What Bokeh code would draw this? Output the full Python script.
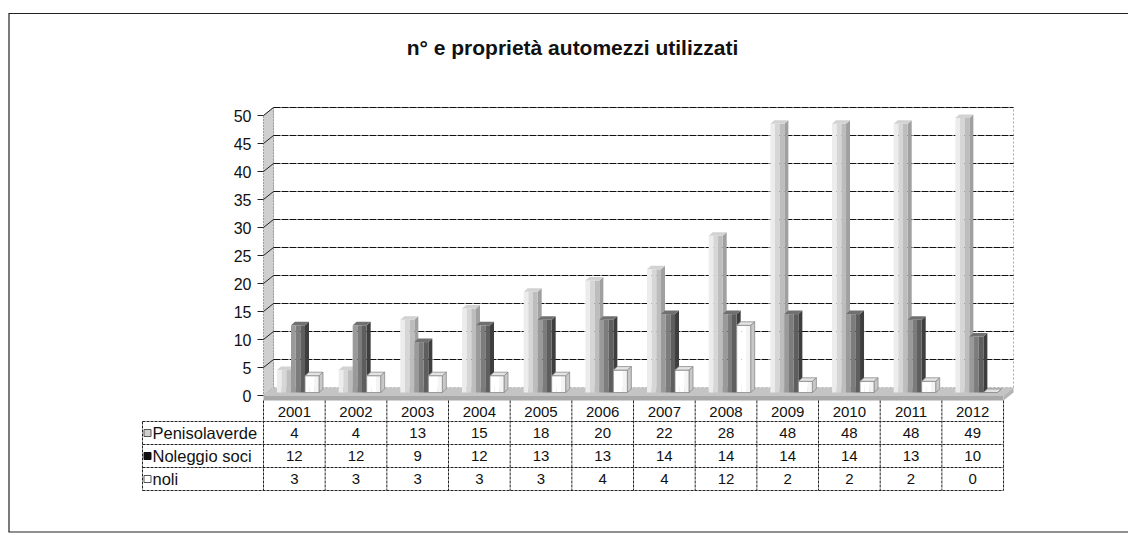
from bokeh.plotting import figure
from bokeh.models import Range1d
from bokeh.embed import file_html
from bokeh.resources import INLINE
from bokeh.core.properties import value

# ---------------- data ----------------
years = ["2001", "2002", "2003", "2004", "2005", "2006",
         "2007", "2008", "2009", "2010", "2011", "2012"]
penisolaverde = [4, 4, 13, 15, 18, 20, 22, 28, 48, 48, 48, 49]
noleggio_soci = [12, 12, 9, 12, 13, 13, 14, 14, 14, 14, 13, 10]
noli = [3, 3, 3, 3, 3, 4, 4, 12, 2, 2, 2, 0]
series_names = ["Penisolaverde", "Noleggio soci", "noli"]
y_ticks = [0, 5, 10, 15, 20, 25, 30, 35, 40, 45, 50]
title_text = "n° e proprietà automezzi utilizzati"

# ---------------- layout calibration (page pixels -> data units) ----------------
W, H = 1128, 533
ORG = 0.0                   # page position of the canvas origin
PX0, CW = 263.0, 61.67      # page x of first column, column width in px
PY0, SY = 395.0, 5.6        # page y of value 0, px per unit


def ux(px):
    return (px - PX0) / CW


def uy(py):
    return (PY0 - py) / SY


def dx(px):
    return px / CW


def dy(px):
    return px / SY


FONT = "Liberation Sans"
n = len(years)
YMAX = y_ticks[-1]

p = figure(width=W, height=H, x_range=Range1d(ux(ORG), ux(ORG + W)),
           y_range=Range1d(uy(ORG + H), uy(ORG)),
           output_backend="svg", toolbar_location=None, tools="",
           x_axis_location=None, y_axis_location=None, min_border=0,
           outline_line_color=None, background_fill_color="white",
           border_fill_color="white")
p.xgrid.visible = False
p.ygrid.visible = False

# ---------------- outer frame ----------------
p.segment(x0=[ux(8), ux(8.5), ux(8)], y0=[uy(13), uy(13), uy(531.5)],
          x1=[ux(ORG + W + 5), ux(8.5), ux(ORG + W + 5)], y1=[uy(13), uy(531.5), uy(531.5)],
          line_color="#222222", line_width=1.2)

# ---------------- title ----------------
p.text(x=[ux(572)], y=[uy(47)], text=[title_text], text_font=value(FONT),
       text_font_style="bold", text_font_size="21px", text_align="center",
       text_baseline="middle", text_color="#111111")

# ---------------- 3D walls ----------------
DXW, DYW = dx(10), dy(8)
# back wall
p.patch(x=[DXW, n + DXW, n + DXW, DXW], y=[DYW, DYW, YMAX + DYW, YMAX + DYW],
        fill_color="white", line_color="#aaaaaa", line_dash="2 2", line_width=1)
# side wall
p.patch(x=[0, DXW, DXW, 0], y=[0, DYW, YMAX + DYW, YMAX],
        fill_color="#cfcfcf", line_color="#999999", line_dash="2 1", line_width=1)
# gridlines on back wall, diagonals on side wall, ticks
gv = [v for v in y_ticks if v > 0]
p.segment(x0=[DXW] * len(gv), y0=[v + DYW for v in gv],
          x1=[n + DXW] * len(gv), y1=[v + DYW for v in gv],
          line_color="#111111", line_width=1.2, line_dash="7 1")
p.segment(x0=[0] * len(gv), y0=gv, x1=[DXW] * len(gv), y1=[v + DYW for v in gv],
          line_color="#222222", line_width=1)
p.segment(x0=[ux(257)] * len(y_ticks), y0=y_ticks, x1=[0] * len(y_ticks), y1=y_ticks,
          line_color="#222222", line_width=1)
p.text(x=[ux(251)] * len(y_ticks), y=y_ticks, text=[str(v) for v in y_ticks],
       text_font=value(FONT), text_font_size="16px", text_align="right",
       text_baseline="middle", text_color="#111111")

# floor
FT = dy(5)
p.patch(x=[0, n, n + DXW, DXW], y=[0, 0, DYW, DYW], fill_color="#c4c4c4",
        line_color=None)
p.patch(x=[0, n, n, 0], y=[0, 0, -FT, -FT], fill_color="#a8a8a8", line_color=None)
p.patch(x=[n, n + DXW, n + DXW, n], y=[0, DYW, DYW - FT, -FT], fill_color="#b5b5b5",
        line_color=None)

# ---------------- 3D bars ----------------
B0 = dy(3)               # bar baseline above front floor edge
BW = dx(14)              # bar front width
SX, SYD = dx(4), dy(3.5)  # bar depth
starts = [dx(13.5), dx(27.5), dx(41.5)]
series = [penisolaverde, noleggio_soci, noli]
front_cols = [["#ececec", "#d6d6d6", "#bdbdbd"],
              ["#9a9a9a", "#7c7c7c", "#5e5e5e"],
              ["#ffffff", "#ffffff", "#f4f4f4"]]
side_cols = ["#a0a0a0", "#3e3e3e", "#c8c8c8"]
top_cols = ["#d2d2d2", "#707070", "#e4e4e4"]
edge_cols = [None, None, "#8a8a8a"]

for s, vals in enumerate(series):
    lefts = [i + starts[s] for i in range(n)]
    tops = [B0 + v for v in vals]
    # side faces
    p.patches(xs=[[l + BW, l + BW + SX, l + BW + SX, l + BW] for l in lefts],
              ys=[[B0, B0 + SYD, t + SYD, t] for t in tops],
              fill_color=side_cols[s], line_color=edge_cols[s], line_width=0.8)
    # front faces in three tone strips
    for k in range(3):
        p.quad(left=[l + BW * k / 3 for l in lefts],
               right=[l + BW * (k + 1) / 3 for l in lefts],
               bottom=[B0] * n, top=tops, fill_color=front_cols[s][k],
               line_color=None)
    if edge_cols[s]:
        p.quad(left=lefts, right=[l + BW for l in lefts], bottom=[B0] * n, top=tops,
               fill_color=None, line_color=edge_cols[s], line_width=0.8)
    # top faces
    p.patches(xs=[[l, l + BW, l + BW + SX, l + SX] for l in lefts],
              ys=[[t, t, t + SYD, t + SYD] for t in tops],
              fill_color=top_cols[s], line_color=edge_cols[s], line_width=0.8)

# ---------------- data table ----------------
row_lines = [421, 444, 467, 490]
TL = ux(142)
p.segment(x0=[TL] * len(row_lines), y0=[uy(r) for r in row_lines],
          x1=[n] * len(row_lines), y1=[uy(r) for r in row_lines],
          line_color="#222222", line_width=1, line_dash="3 1")
p.segment(x0=list(range(n + 1)), y0=[uy(400)] * (n + 1),
          x1=list(range(n + 1)), y1=[uy(490)] * (n + 1),
          line_color="#222222", line_width=1, line_dash="3 1")
p.segment(x0=[TL], y0=[uy(421)], x1=[TL], y1=[uy(490)],
          line_color="#222222", line_width=1, line_dash="3 1")

centers = [i + 0.5 for i in range(n)]
p.text(x=centers, y=[uy(411)] * n, text=years, text_font=value(FONT),
       text_font_size="15px", text_align="center", text_baseline="middle",
       text_color="#111111")
row_y = [432.5, 455.5, 478.5]
for s, vals in enumerate(series):
    p.text(x=centers, y=[uy(row_y[s])] * n, text=[str(v) for v in vals],
           text_font=value(FONT), text_font_size="15px", text_align="center",
           text_baseline="middle", text_color="#111111")

# legend keys inside the table
key_fill = ["#cfcfcf", "#111111", "#ffffff"]
key_line = ["#555555", "#111111", "#555555"]
p.rect(x=[ux(147)] * 3, y=[uy(r) for r in row_y], width=7, height=7,
       width_units="screen", height_units="screen", fill_color=key_fill,
       line_color=key_line, line_width=1)
p.text(x=[ux(152)] * 3, y=[uy(r) for r in row_y], text=series_names,
       text_font=value(FONT), text_font_size="16.5px", text_align="left",
       text_baseline="middle", text_color="#111111")

open("out.html", "w").write(file_html(p, INLINE))
